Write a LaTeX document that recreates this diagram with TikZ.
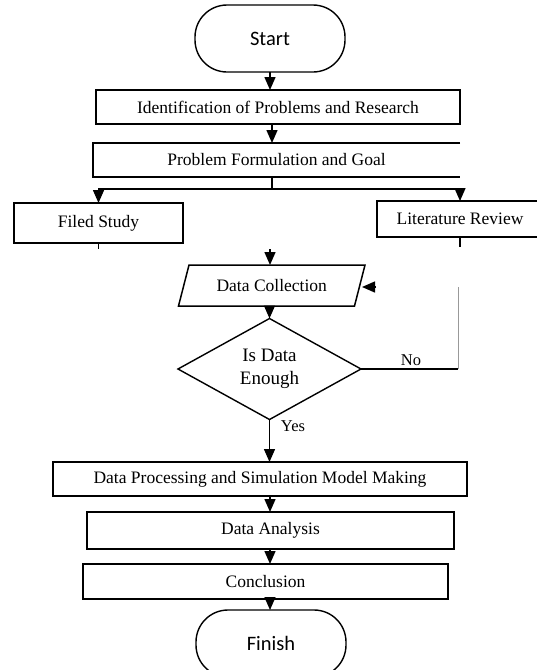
\documentclass[tikz,border=0pt]{standalone}
\usepackage{fontspec}
\setmainfont{Liberation Serif}
\newfontfamily\carlfont{Carlito}
\usetikzlibrary{shapes.geometric,arrows.meta}
\begin{document}
\begin{tikzpicture}[x=1pt,y=-1pt,
  every node/.style={inner sep=0pt,outer sep=0pt},
  line/.style={line width=1.4pt,black},
  faint/.style={line width=0.9pt,black!40},
  arr/.style={line,-{Triangle[width=11pt,length=13pt]}},
  boxline/.style={line width=1.5pt,black},
  txt/.style={rectangle,font=\fontsize{17.5}{20}\selectfont},
  box/.style={txt,draw,line width=1.5pt},
  lbl/.style={font=\fontsize{16.5}{19}\selectfont},
  term/.style={draw,line width=1.4pt,rectangle,rounded corners=32pt,
    minimum width=150pt,minimum height=67pt,
    font=\carlfont\fontsize{20.5}{24}\selectfont},
  decision/.style={diamond,draw,line width=1.4pt,align=center,
    minimum width=183pt,minimum height=101pt,
    font=\fontsize{19}{21}\selectfont}]
\useasboundingbox (0,0) rectangle (537,670);

% nodes
\node[term] (start) at (270,38.5) {Start};
\node[box,minimum width=364pt,minimum height=34pt] (ident) at (278,107)
  {Identification of Problems and Research};
\node[txt,minimum width=367pt,minimum height=34pt] (prob) at (276.5,160)
  {Problem Formulation and Goal};
\draw[boxline] (prob.north east) -- (prob.north west) -- (prob.south west) -- (prob.south east);
\node[box,minimum width=169pt,minimum height=40pt] (field) at (98.5,223) {Filed Study};
\node[txt,minimum width=166pt,minimum height=36pt] (lit) at (460,219) {Literature Review};
\draw[boxline] (lit.north east) -- (lit.north west) -- (lit.south west) -- (lit.south east);
\node[txt,minimum width=176pt,minimum height=41pt] (dc) at (271.75,285.5) {Data Collection};
\draw[boxline] ([xshift=5.25pt]dc.north west) -- ([xshift=5.25pt]dc.north east)
  -- ([xshift=-5.25pt]dc.south east) -- ([xshift=-5.25pt]dc.south west) -- cycle;
\node[decision] (dec) at (269.5,369) {Is Data\\[2pt]Enough};
\node[box,minimum width=414pt,minimum height=34pt] (proc) at (260,479)
  {Data Processing and Simulation Model Making};
\node[box,minimum width=367pt,minimum height=37pt] (anal) at (270.5,530.5) {Data Analysis};
\node[box,minimum width=365pt,minimum height=35pt] (concl) at (265.5,581.5) {Conclusion};
\node[term] (finish) at (271,643.5) {Finish};

% helper coordinates
\coordinate (col) at (270,0);
\coordinate (br) at (272,189);
\coordinate (ftick) at (98.5,249);
\coordinate (ltick) at (460,247);
\coordinate (dctop) at (270,249);
\coordinate (nocorner) at (458,369);
\coordinate (noup) at (458,287);
\coordinate (dcr0) at (376,287);
\coordinate (dcr1) at (362,287);

% connectors
\draw[arr] (start.south) -- (start.south |- ident.north);
\draw[arr] (ident.south -| br) -- (prob.north -| br);
\draw[line] (prob.south -| br) -- (br);
\draw[arr] (br) -| (field.north);
\draw[arr] (br) -| (lit.north);
\draw[line] (field.south) -- (ftick);
\draw[line] (lit.south) -- (ltick);
\draw[arr] (dctop) -- (dctop |- dc.north);
\draw[arr] (dc.south -| dec.north) -- (dec.north);
\draw[line] (dec.east) -- (nocorner);
\draw[faint] (nocorner) -- (noup);
\draw[arr] (dcr0) -- (dcr1);
\node[lbl] (nolab) at (411,360) {No};
\draw[arr] (dec.south) -- (dec.south |- proc.north);
\node[lbl] (yeslab) at (293,426) {Yes};
\draw[arr] (proc.south -| col) -- (anal.north -| col);
\draw[arr] (anal.south -| col) -- (concl.north -| col);
\draw[arr] (concl.south -| col) -- (finish.north -| col);
\end{tikzpicture}
\end{document}
